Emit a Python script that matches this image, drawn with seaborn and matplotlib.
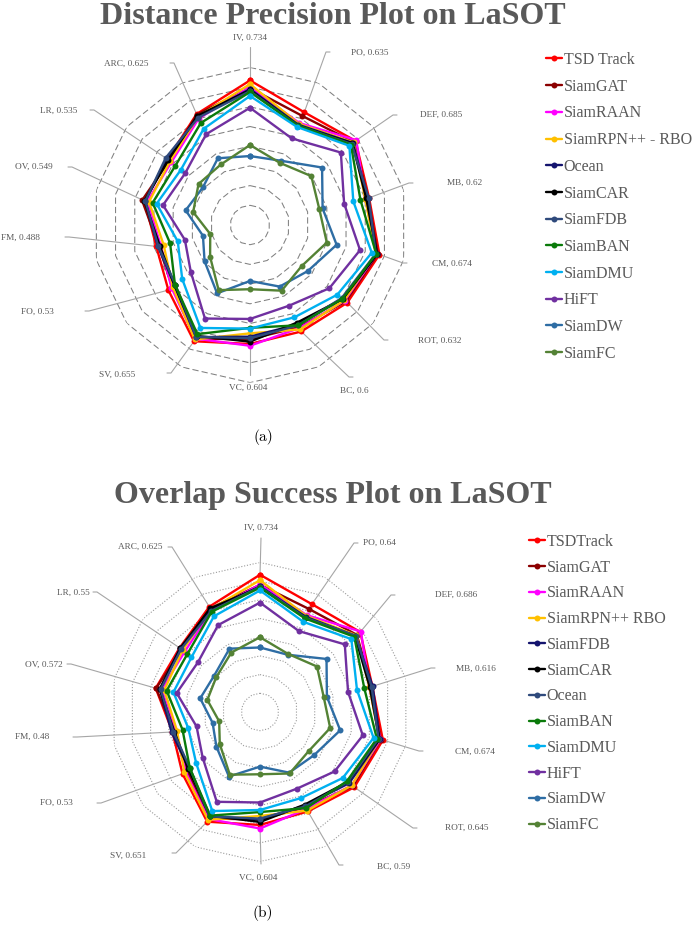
import numpy as np
import pandas as pd
import matplotlib
matplotlib.use("Agg")
import matplotlib.pyplot as plt
import seaborn as sns
from matplotlib.lines import Line2D
from matplotlib.transforms import IdentityTransform

# ---------------- data ----------------
attributes = ["IV", "PO", "DEF", "MB", "CM", "ROT", "BC", "VC", "SV", "FO", "FM", "OV", "LR", "ARC"]

dp_trackers = ["TSD Track", "SiamGAT", "SiamRAAN", "SiamRPN++ - RBO", "Ocean", "SiamCAR",
               "SiamFDB", "SiamBAN", "SiamDMU", "HiFT", "SiamDW", "SiamFC"]
dp_tsd_track = [0.734, 0.635, 0.685, 0.620, 0.674, 0.632, 0.600, 0.604, 0.655, 0.530, 0.488, 0.549, 0.535, 0.625]
dp_siamgat = [0.695, 0.614, 0.675, 0.615, 0.665, 0.622, 0.575, 0.580, 0.640, 0.505, 0.475, 0.562, 0.525, 0.622]
dp_siamraan = [0.700, 0.575, 0.690, 0.600, 0.660, 0.615, 0.580, 0.613, 0.640, 0.510, 0.465, 0.535, 0.511, 0.600]
dp_siamrpnpp_rbo = [0.715, 0.570, 0.672, 0.600, 0.655, 0.612, 0.588, 0.550, 0.645, 0.502, 0.450, 0.526, 0.520, 0.610]
dp_ocean = [0.690, 0.565, 0.668, 0.612, 0.660, 0.600, 0.560, 0.567, 0.632, 0.490, 0.480, 0.545, 0.540, 0.610]
dp_siamcar = [0.685, 0.560, 0.665, 0.605, 0.662, 0.602, 0.550, 0.592, 0.625, 0.490, 0.470, 0.550, 0.530, 0.615]
dp_siamfdb = [0.680, 0.560, 0.660, 0.618, 0.655, 0.595, 0.565, 0.575, 0.630, 0.485, 0.478, 0.545, 0.547, 0.605]
dp_siamban = [0.675, 0.560, 0.655, 0.575, 0.657, 0.600, 0.565, 0.522, 0.615, 0.487, 0.416, 0.507, 0.484, 0.575]
dp_siamdmu = [0.655, 0.552, 0.645, 0.538, 0.634, 0.567, 0.520, 0.526, 0.580, 0.440, 0.376, 0.486, 0.449, 0.542]
dp_hift = [0.595, 0.488, 0.590, 0.490, 0.573, 0.515, 0.455, 0.477, 0.527, 0.384, 0.339, 0.453, 0.421, 0.512]
dp_siamdw = [0.350, 0.362, 0.468, 0.378, 0.451, 0.375, 0.347, 0.284, 0.385, 0.295, 0.245, 0.335, 0.306, 0.376]
dp_siamfc = [0.406, 0.350, 0.398, 0.361, 0.400, 0.335, 0.370, 0.326, 0.367, 0.259, 0.207, 0.296, 0.334, 0.341]

os_trackers = ["TSDTrack", "SiamGAT", "SiamRAAN", "SiamRPN++ RBO", "SiamFDB", "SiamCAR",
               "Ocean", "SiamBAN", "SiamDMU", "HiFT", "SiamDW", "SiamFC"]
os_tsdtrack = [0.734, 0.640, 0.686, 0.616, 0.674, 0.645, 0.590, 0.604, 0.651, 0.530, 0.480, 0.572, 0.550, 0.625]
os_siamgat = [0.680, 0.610, 0.662, 0.612, 0.662, 0.635, 0.565, 0.575, 0.632, 0.500, 0.470, 0.570, 0.535, 0.615]
os_siamraan = [0.682, 0.575, 0.690, 0.600, 0.660, 0.628, 0.575, 0.623, 0.635, 0.510, 0.460, 0.540, 0.516, 0.600]
os_siamrpnpp_rbo = [0.705, 0.570, 0.658, 0.600, 0.655, 0.628, 0.585, 0.556, 0.640, 0.517, 0.455, 0.525, 0.530, 0.610]
os_siamfdb = [0.672, 0.565, 0.652, 0.618, 0.656, 0.610, 0.555, 0.574, 0.620, 0.486, 0.485, 0.548, 0.547, 0.605]
os_siamcar = [0.668, 0.560, 0.650, 0.602, 0.655, 0.600, 0.550, 0.588, 0.615, 0.490, 0.470, 0.550, 0.545, 0.615]
os_ocean = [0.670, 0.560, 0.655, 0.612, 0.650, 0.600, 0.560, 0.570, 0.620, 0.480, 0.475, 0.545, 0.540, 0.600]
os_siamban = [0.665, 0.555, 0.645, 0.572, 0.641, 0.594, 0.570, 0.535, 0.615, 0.480, 0.425, 0.512, 0.497, 0.595]
os_siamdmu = [0.650, 0.535, 0.625, 0.532, 0.623, 0.566, 0.510, 0.524, 0.588, 0.437, 0.393, 0.475, 0.469, 0.568]
os_hift = [0.585, 0.480, 0.580, 0.483, 0.564, 0.510, 0.455, 0.484, 0.533, 0.392, 0.348, 0.457, 0.425, 0.516]
os_siamdw = [0.345, 0.340, 0.455, 0.367, 0.440, 0.370, 0.360, 0.292, 0.383, 0.298, 0.260, 0.328, 0.313, 0.376]
os_siamfc = [0.400, 0.345, 0.390, 0.350, 0.385, 0.334, 0.365, 0.333, 0.372, 0.275, 0.224, 0.289, 0.299, 0.353]

ring_values = [0.1, 0.2, 0.3, 0.4, 0.5, 0.6, 0.7, 0.8]

# ---------------- styling / layout ----------------
palette = ["#FF0000", "#8B0000", "#FF00FF", "#FFC000", "#14146E", "#000000",
           "#2F4A7C", "#0A7A0A", "#00B0F0", "#7030A0", "#2E6DA4", "#548235"]
W, H = 692, 933
GREY = "#595959"
SERIF = ["Liberation Serif", "DejaVu Serif"]

sns.set_theme(style="white")
plt.rcParams["font.family"] = SERIF

fig = plt.figure(figsize=(W / 100, H / 100), dpi=100)


def polar_axes(cx, cy, rad):
    return fig.add_axes([(cx - rad) / W, (H - cy - rad) / H, 2 * rad / W, 2 * rad / H],
                        projection="polar")


def draw_radar(ax, trackers, series, grid_kw, labels_layout, legend_xy, legend_spacing):
    n = len(attributes)
    theta = np.linspace(0, 2 * np.pi, n + 1)
    rows = []
    for name, vals in zip(trackers, series):
        for i in range(n + 1):
            rows.append({"tracker": name, "theta": theta[i], "value": vals[i % n]})
    df = pd.DataFrame(rows)

    ax.set_theta_zero_location("N")
    ax.set_theta_direction(-1)

    sns.lineplot(data=df, x="theta", y="value", hue="tracker", hue_order=trackers,
                 palette=palette, sort=False, estimator=None, marker="o",
                 markersize=4.3, markeredgewidth=0, linewidth=1.7, legend=False,
                 ax=ax, zorder=3)
    data_lines = list(ax.lines)

    for r in ring_values:
        ax.plot(theta, [r] * (n + 1), zorder=1, **grid_kw)

    ax.set_ylim(0, 0.8)
    ax.set_xticks([])
    ax.set_yticks([])
    ax.set_xlabel("")
    ax.set_ylabel("")
    ax.grid(False)
    for sp in ax.spines.values():
        sp.set_visible(False)
    ax.set_facecolor("none")

    # data labels with leader lines for the first series
    first = series[0]
    for i, (tx, ty, ha, lx, ly) in enumerate(labels_layout):
        px, py = ax.transData.transform((theta[i], first[i]))
        sx, sy = lx, H - ly
        if abs(px - sx) > 8:
            ex = sx + 4 * np.sign(px - sx)
            xs, ys = [sx, ex, px], [sy, sy, py]
        else:
            xs, ys = [sx, px], [sy, py]
        ln = Line2D(xs, ys, transform=IdentityTransform(), color="#A6A6A6",
                    lw=0.8, clip_on=False, zorder=2)
        ax.add_line(ln)
        fig.text(tx / W, 1 - ty / H, f"{attributes[i]}, {first[i]:g}", ha=ha, va="center",
                 fontsize=6.7, color=GREY, family=SERIF)

    leg = ax.legend(data_lines, trackers, loc="upper left",
                    bbox_to_anchor=(legend_xy[0] / W, 1 - legend_xy[1] / H),
                    bbox_transform=fig.transFigure, frameon=False,
                    prop={"family": SERIF, "size": 11.5}, labelcolor=GREY,
                    handlelength=1.0, handletextpad=0.1, labelspacing=legend_spacing,
                    borderpad=0, borderaxespad=0)
    return leg


# label layout (pixels): text x, text y, align, leader start x, leader start y
dp_labels = [
    (250, 38, "center", 250, 47),
    (351, 53, "left", 330, 52),
    (420, 115, "left", 397, 115),
    (447, 183, "left", 413, 183),
    (432, 264, "left", 407, 263),
    (418, 341, "left", 388, 340),
    (354, 391, "center", 353, 377),
    (248, 388, "center", 250, 375),
    (135, 375, "right", 167, 373),
    (54, 312, "right", 85, 311),
    (40, 238, "right", 65, 237),
    (53, 167, "right", 68, 167),
    (77, 111, "right", 90, 110),
    (148, 64, "right", 170, 63),
]
os_labels = [
    (261, 528, "center", 261, 538),
    (363, 543, "left", 358, 543),
    (435, 595, "left", 395, 595),
    (456, 669, "left", 435, 668),
    (455, 752, "left", 423, 751),
    (445, 828, "left", 417, 828),
    (377, 867, "left", 343, 865),
    (258, 878, "center", 261, 864),
    (146, 856, "right", 172, 853),
    (73, 803, "right", 97, 803),
    (49, 737, "right", 73, 737),
    (63, 665, "right", 67, 664),
    (90, 593, "right", 93, 592),
    (163, 547, "right", 168, 547),
]

ax1 = polar_axes(250, 225, 157.6)
draw_radar(ax1, dp_trackers,
           [dp_tsd_track, dp_siamgat, dp_siamraan, dp_siamrpnpp_rbo, dp_ocean, dp_siamcar,
            dp_siamfdb, dp_siamban, dp_siamdmu, dp_hift, dp_siamdw, dp_siamfc],
           dict(color="#808080", lw=0.75, linestyle=(0, (6, 3))),
           dp_labels, (546, 52), 0.67)

ax2 = polar_axes(260, 712, 149.6)
draw_radar(ax2, os_trackers,
           [os_tsdtrack, os_siamgat, os_siamraan, os_siamrpnpp_rbo, os_siamfdb, os_siamcar,
            os_ocean, os_siamban, os_siamdmu, os_hift, os_siamdw, os_siamfc],
           dict(color="#9A9A9A", lw=0.8, linestyle=(0, (1, 1.6))),
           os_labels, (529, 534), 0.61)

fig.text(333 / W, 1 - 24.5 / H, "Distance Precision Plot on LaSOT", ha="center", va="baseline",
         fontsize=23, fontweight="bold", color=GREY, family=SERIF)
fig.text(333 / W, 1 - 503.5 / H, "Overlap Success Plot on LaSOT", ha="center", va="baseline",
         fontsize=23, fontweight="bold", color=GREY, family=SERIF)
fig.text(263 / W, 1 - 437 / H, "(a)", ha="center", va="center", fontsize=11, family="cmr10",
         color="black")
fig.text(263 / W, 1 - 913 / H, "(b)", ha="center", va="center", fontsize=11, family="cmr10",
         color="black")

fig.savefig("out.png", dpi=100, facecolor="white")
